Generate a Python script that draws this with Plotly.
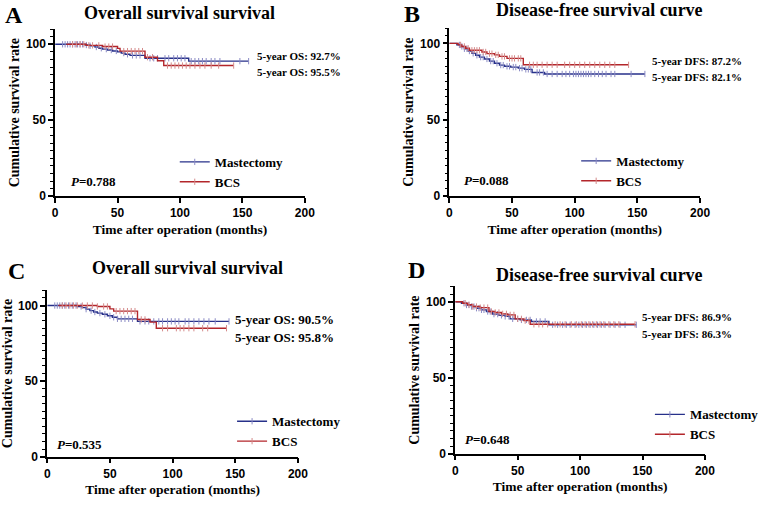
import numpy as np
import plotly.graph_objects as go

W, H = 771, 506

# ---------------- data ----------------
# Panel A : Overall survival (cohort 1)
a_mast_t = [0, 24, 28, 32, 35, 38, 42, 46, 50, 53, 56, 60, 72, 107, 155]
a_mast_s = [100, 99.5, 99, 98.2, 97.4, 96.8, 96.2, 95.6, 95, 94.2, 93.4, 92.7, 90.8, 88.9, 88.9]
a_mast_c = [6, 8, 10, 12, 14, 16, 18, 20, 22, 25, 28, 33, 37, 41, 45, 49, 55, 58, 62, 65, 68, 76, 79,
            82, 88, 91, 95, 98, 101, 104, 109, 112, 115, 118, 121, 125, 128, 132, 148, 155]
a_bcs_t = [9, 25, 38, 50, 52, 72, 82, 87, 143]
a_bcs_s = [100, 99.3, 98.5, 97.3, 95.5, 91.5, 89.2, 86, 86]
a_bcs_c = [14, 17, 20, 23, 27, 30, 35, 40, 43, 46, 55, 58, 61, 64, 67, 70, 74, 78, 90, 93, 96, 99,
           102, 105, 108, 112, 116, 120, 125, 131, 143]

# Panel B : Disease-free survival (cohort 1)
b_mast_t = [0, 6, 9, 12, 15, 18, 21, 24, 28, 32, 36, 40, 44, 49, 55, 60, 66, 76, 156]
b_mast_s = [100, 99, 98, 96.5, 95, 93.5, 92.2, 91, 89.8, 88.4, 87, 85.8, 85, 84.5, 83.8, 83, 81, 80, 80]
b_mast_c = [8, 10, 12, 14, 16, 19, 22, 25, 27, 30, 33, 35, 38, 41, 43, 46, 48, 51, 53, 56, 58, 61, 63,
            65, 70, 72, 75, 78, 82, 86, 90, 93, 96, 99, 101, 103, 105, 107, 109, 111, 113, 116, 119,
            122, 125, 129, 132, 145, 156]
b_bcs_t = [0, 7, 10, 13, 16, 26, 30, 36, 40, 46, 59, 143]
b_bcs_s = [100, 99, 98, 96.8, 95.5, 94.4, 93.3, 92.5, 91.5, 90.2, 86.0, 86.0]
b_bcs_c = [9, 12, 15, 18, 20, 22, 24, 27, 29, 32, 34, 37, 39, 42, 44, 48, 50, 52, 55, 57, 64, 67, 70,
           74, 78, 82, 86, 92, 96, 100, 104, 108, 112, 116, 120, 124, 128, 132, 143]

# Panel C : Overall survival (cohort 2)
c_mast_t = [0, 24, 28, 31, 34, 37, 40, 44, 48, 52, 56, 72, 145]
c_mast_s = [100, 99.4, 98.6, 97.6, 96.6, 95.7, 95, 94.2, 93.2, 92.2, 91.2, 89.5, 89.5]
c_mast_c = [6, 8, 10, 12, 14, 17, 20, 23, 27, 31, 35, 38, 42, 46, 50, 53, 56, 59, 62, 65, 68, 74, 78,
            81, 85, 89, 92, 96, 99, 102, 105, 110, 113, 117, 121, 125, 129, 134, 145]
c_bcs_t = [9, 40, 50, 53, 72, 82, 87, 143]
c_bcs_s = [100, 99.4, 97.8, 96.3, 90.8, 89, 85, 85]
c_bcs_c = [12, 15, 18, 21, 24, 28, 32, 36, 40, 45, 48, 55, 58, 61, 64, 67, 70, 75, 78, 92, 96, 103,
           106, 109, 113, 117, 124, 128, 143]

# Panel D : Disease-free survival (cohort 2)
d_mast_t = [0, 5, 9, 13, 17, 21, 25, 30, 35, 40, 44, 52, 61, 75, 145]
d_mast_s = [100, 99, 97.8, 96.8, 95.7, 94.6, 93.5, 91.8, 91, 90.3, 88.7, 88, 87, 84.8, 84.8]
d_mast_c = [7, 9, 11, 13, 15, 17, 19, 21, 23, 26, 28, 31, 34, 37, 40, 43, 46, 50, 53, 57, 60, 65, 68,
            72, 78, 82, 86, 89, 92, 96, 99, 102, 105, 108, 111, 114, 117, 120, 124, 128, 132, 136, 145]
d_bcs_t = [0, 6, 10, 14, 20, 27, 32, 37, 42, 48, 55, 60, 144]
d_bcs_s = [100, 99, 98, 96.8, 96.1, 93.5, 92.9, 92, 91.3, 88.7, 87.5, 85.1, 85.1]
d_bcs_c = [8, 11, 14, 17, 20, 23, 26, 29, 32, 35, 38, 41, 44, 47, 50, 53, 56, 59, 63, 67, 70, 74, 80,
           84, 88, 93, 97, 101, 104, 107, 110, 113, 116, 119, 123, 127, 131, 144]

titles = ["Overall survival survival", "Disease-free survival curve",
          "Overall survival survival", "Disease-free survival curve"]
letters = ["A", "B", "C", "D"]
p_values = ["0.788", "0.088", "0.535", "0.648"]
five_year = [("5-year OS: 92.7%", "5-year OS: 95.5%"),
             ("5-year DFS: 87.2%", "5-year DFS: 82.1%"),
             ("5-year OS: 90.5%", "5-year OS: 95.8%"),
             ("5-year DFS: 86.9%", "5-year DFS: 86.3%")]
groups = ["Mastectomy", "BCS"]
x_ticks = [0, 50, 100, 150, 200]
y_ticks = [0, 50, 100]

panels = [
    (a_mast_t, a_mast_s, a_mast_c, a_bcs_t, a_bcs_s, a_bcs_c),
    (b_mast_t, b_mast_s, b_mast_c, b_bcs_t, b_bcs_s, b_bcs_c),
    (c_mast_t, c_mast_s, c_mast_c, c_bcs_t, c_bcs_s, c_bcs_c),
    (d_mast_t, d_mast_s, d_mast_c, d_bcs_t, d_bcs_s, d_bcs_c),
]

# ---------------- layout geometry (pixels) ----------------
geo = [(53, 307, 199, 29.5), (454, 709, 199, 28.5), (45, 300, 463, 294.5), (460, 714, 460, 290.5)]
title_pos = [(180, 13), (607, 10), (188, 272), (607, 279)]
letter_pos = [(11, 15), (416, 14), (14, 275), (421, 274)]
five_pos = [(160, 92.2, 81.8, 11), (160, 88.5, 78.1, 11), (148.5, 90.8, 78.7, 13), (148.3, 89.6, 78.8, 11)]
p_pos = [(10.8, 9.9), (10, 10.6), (6.5, 8.1), (6, 9.3)]
legend_pos = [(216.7, 160), (625, 159), (275, 423), (700, 416)]
ytitle_standoff = [3, 3, 2, 3]

BLUE = "#27318A"
RED = "#B3262B"
BLUE_C = "#8A8AC4"
RED_C = "#D48A8A"
SERIF = "Liberation Serif"
SANS = "Liberation Sans"


def step_eval(ts, ss, x):
    i = np.searchsorted(np.array(ts), x, side="right") - 1
    i = max(i, 0)
    return ss[i]


fig = go.Figure()
annotations = []
for k, (mt, ms, mc, bt, bs, bc) in enumerate(panels):
    xa = "x" if k == 0 else f"x{k+1}"
    ya = "y" if k == 0 else f"y{k+1}"
    lg = "legend" if k == 0 else f"legend{k+1}"
    for (t, s, c, col, ccol, name) in [(mt, ms, mc, BLUE, BLUE_C, groups[0]),
                                       (bt, bs, bc, RED, RED_C, groups[1])]:
        fig.add_trace(go.Scatter(x=t, y=s, mode="lines", line=dict(color=col, width=1.4, shape="hv"),
                                 xaxis=xa, yaxis=ya, showlegend=False, name=name))
        cy = [step_eval(t, s, v) for v in c]
        fig.add_trace(go.Scatter(x=c, y=cy, mode="markers",
                                 marker=dict(symbol="line-ns-open", size=4.5, color=ccol,
                                             line=dict(color=ccol, width=1)),
                                 xaxis=xa, yaxis=ya, showlegend=False, name=name))
        fig.add_trace(go.Scatter(x=[None], y=[None], mode="lines+markers", name=name,
                                 line=dict(color=col, width=1.4),
                                 marker=dict(symbol="line-ns-open", size=4.5, color=ccol,
                                             line=dict(color=ccol, width=1)),
                                 xaxis=xa, yaxis=ya, legend=lg, showlegend=True))

    x0, x1, y0, ytop = geo[k]
    dom_x = [x0 / W, x1 / W]
    dom_y = [(H - y0) / H, (H - ytop) / H]
    axis_common = dict(showline=True, linecolor="black", linewidth=1.6, showgrid=False,
                       zeroline=False, ticks="outside", tickcolor="black", tickwidth=1.6,
                       ticklen=5, tickfont=dict(family=SANS, size=12, color="black", weight="bold"))
    fig.layout[("xaxis" if k == 0 else f"xaxis{k+1}")] = dict(
        axis_common, domain=dom_x, range=[0, 200], tickvals=x_ticks, anchor=ya,
        title=dict(text="Time after operation (months)", standoff=5,
                   font=dict(family=SERIF, size=13.5, color="black", weight="bold")))
    fig.layout[("yaxis" if k == 0 else f"yaxis{k+1}")] = dict(
        axis_common, domain=dom_y, range=[0, 110], tickvals=y_ticks, anchor=xa,
        minor=dict(dtick=5, ticks="outside", ticklen=3, tickwidth=1.2, tickcolor="black"),
        title=dict(text="Cumulative survival rate", standoff=ytitle_standoff[k],
                   font=dict(family=SERIF, size=14, color="black", weight="bold")))

    lx, ly = legend_pos[k]
    fig.layout[lg] = dict(x=(lx - 42) / W, y=(H - (ly - 11)) / H, xanchor="left", yanchor="top",
                          bgcolor="rgba(0,0,0,0)", itemwidth=30, tracegroupgap=0,
                          font=dict(family=SERIF, size=13, color="black", weight="bold"))

    tx, ty = title_pos[k]
    annotations.append(dict(text=f"<b>{titles[k]}</b>", x=tx / W, y=(H - ty) / H, xref="paper",
                            yref="paper", showarrow=False, xanchor="center", yanchor="middle",
                            font=dict(family=SERIF, size=18, color="black")))
    lx2, ly2 = letter_pos[k]
    annotations.append(dict(text=f"<b>{letters[k]}</b>", x=lx2 / W, y=(H - ly2) / H, xref="paper",
                            yref="paper", showarrow=False, xanchor="center", yanchor="middle",
                            font=dict(family=SERIF, size=24, color="black")))
    fx, fy1, fy2, fs = five_pos[k]
    for txt, fy in zip(five_year[k], (fy1, fy2)):
        annotations.append(dict(text=f"<b>{txt}</b>", x=fx, y=fy, xref=xa, yref=ya, showarrow=False,
                                xanchor="left", yanchor="middle",
                                font=dict(family=SERIF, size=fs, color="black")))
    px, py = p_pos[k]
    annotations.append(dict(text=f"<b><i>P</i>={p_values[k]}</b>", x=px, y=py, xref=xa, yref=ya,
                            showarrow=False, xanchor="left", yanchor="middle",
                            font=dict(family=SERIF, size=13, color="black")))

fig.update_layout(width=W, height=H, margin=dict(l=0, r=0, t=0, b=0), autosize=False,
                  paper_bgcolor="white", plot_bgcolor="white", annotations=annotations)

fig.write_html("out.html")
